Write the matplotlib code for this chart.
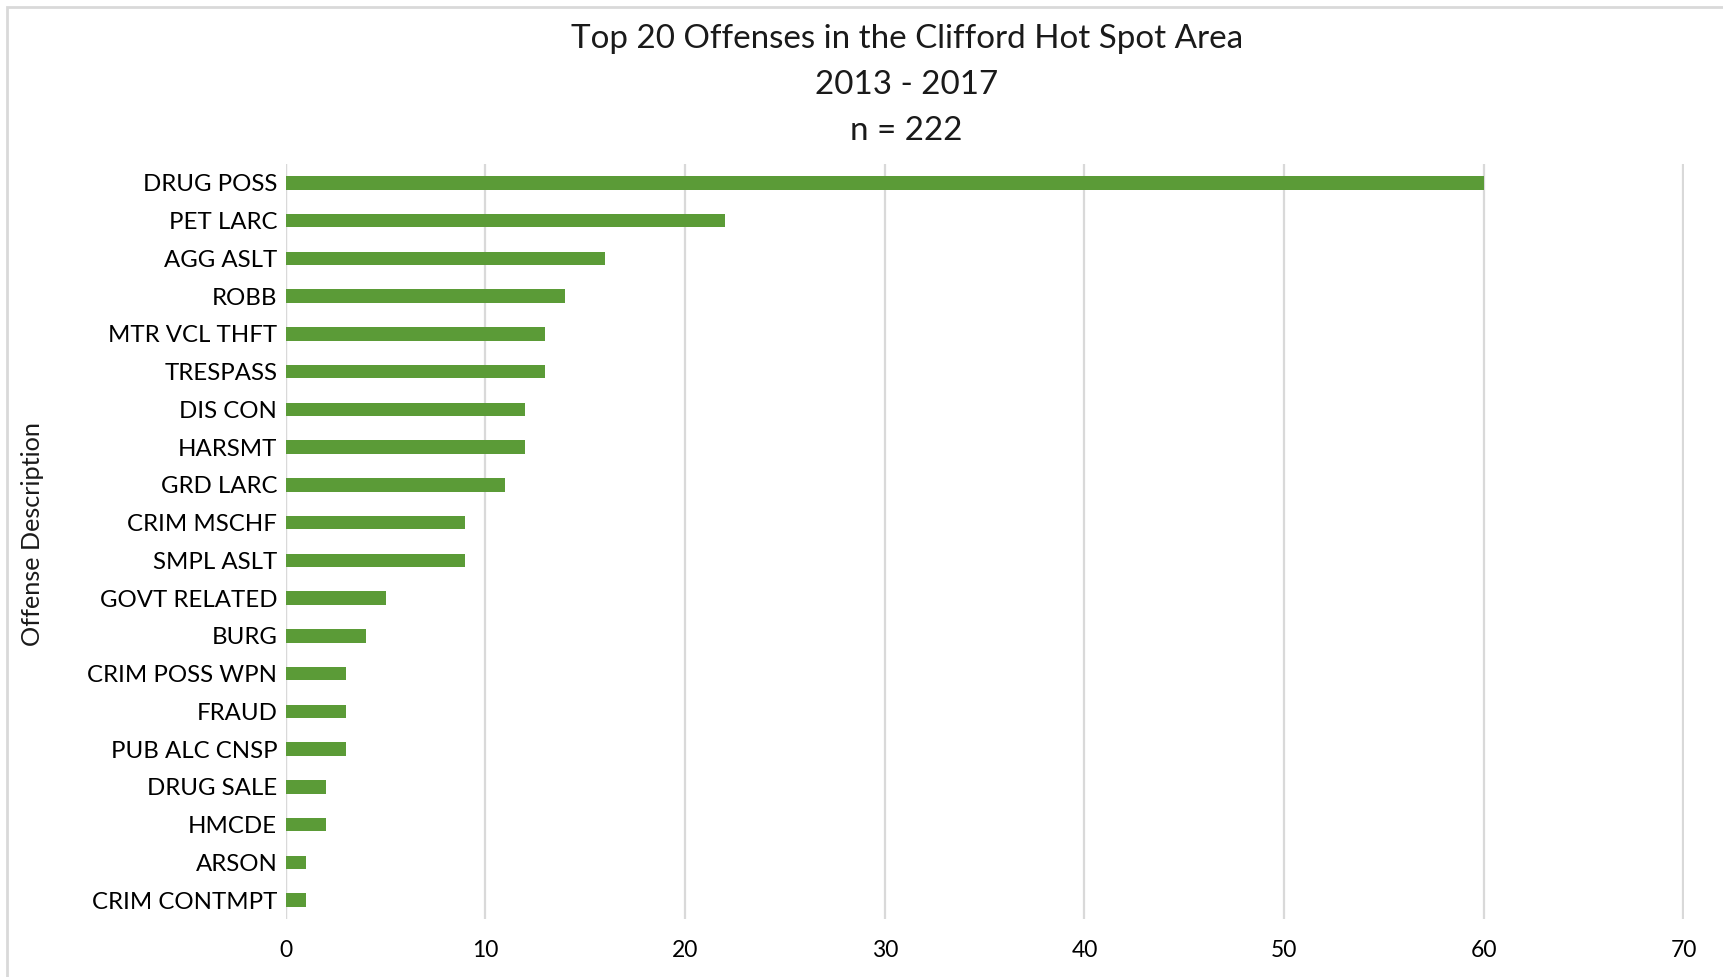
import matplotlib
matplotlib.use("Agg")
import matplotlib.pyplot as plt
from matplotlib.patches import Rectangle

categories = ["DRUG POSS", "PET LARC", "AGG ASLT", "ROBB", "MTR VCL THFT", "TRESPASS",
              "DIS CON", "HARSMT", "GRD LARC", "CRIM MSCHF", "SMPL ASLT", "GOVT RELATED",
              "BURG", "CRIM POSS WPN", "FRAUD", "PUB ALC CNSP", "DRUG SALE", "HMCDE",
              "ARSON", "CRIM CONTMPT"]
values = [60, 22, 16, 14, 13, 13, 12, 12, 11, 9, 9, 5, 4, 3, 3, 3, 2, 2, 1, 1]
xticks = [0, 10, 20, 30, 40, 50, 60, 70]
title_lines = ["Top 20 Offenses in the Clifford Hot Spot Area", "2013 - 2017", "n = 222"]

plt.rcParams['font.family'] = ['Lato', 'DejaVu Sans']

W, H = 1723, 977
fig = plt.figure(figsize=(W / 100, H / 100), dpi=100)
ax = fig.add_axes([285.7 / W, 1 - 919 / H, (1683.5 - 285.7) / W, (919 - 164) / H])

ypos = list(range(len(categories)))
ax.barh(ypos, values, height=0.36, color="#5B9B37", zorder=3)
ax.set_ylim(len(categories) - 0.5, -0.5)
ax.set_xlim(0, 70)
ax.set_xticks(xticks)
ax.set_xticklabels([str(t) for t in xticks], fontsize=16.5)
ax.set_yticks(ypos)
ax.set_yticklabels(categories, fontsize=17.3)
ax.tick_params(length=0, pad=6)
ax.tick_params(axis='x', pad=15)
ax.xaxis.grid(True, color="#D9D9D9", linewidth=1.6, zorder=0)
for s in ax.spines.values():
    s.set_visible(False)
ax.axvline(0, color="#D9D9D9", linewidth=1.6, zorder=1)

ys = [39.5, 85.5, 130.5]
for line, y in zip(title_lines, ys):
    fig.text(906.6 / W, 1 - y / H, line, ha='center', va='center', fontsize=23.9, color="#1a1a1a")

fig.text(33 / W, 1 - 534 / H, "Offense Description", rotation=90, ha='center', va='center',
         fontsize=18.2, color="#1a1a1a")

fig.patches.append(Rectangle((7 / W, -0.1), 1.2, 1.1 - 7 / H, transform=fig.transFigure,
                             fill=False, edgecolor="#D9D9D9", linewidth=2))

fig.savefig("out.png", dpi=100, facecolor="white")
